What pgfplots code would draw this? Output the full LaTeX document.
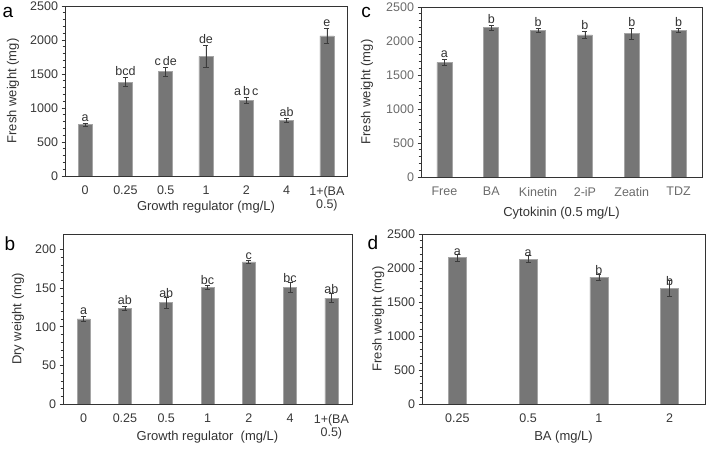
\documentclass[border=0pt]{standalone}
\usepackage{fontspec}
\setmainfont{Liberation Sans}
\usepackage{pgfplots}
\pgfplotsset{compat=1.18}

\definecolor{barGray}{RGB}{118,118,118}
\definecolor{barEdge}{RGB}{165,165,165}
\definecolor{errGray}{RGB}{60,60,60}

\pgfplotsset{
  panel/.style={
    scale only axis, anchor=south west, ymin=0, enlargelimits=false,
    axis line style={black!80, line width=0.7pt},
    tick align=outside, ytick pos=left, xtick pos=bottom,
    major x tick style={draw=none},
    minor y tick num=4,
    major tick length=3.5pt, minor tick length=2.5pt,
    every tick/.append style={black!80, line width=0.6pt},
    tick label style={font=\fontsize{12.5}{13.5}\selectfont, text=black!78},
    /pgf/number format/assume math mode=true,
    /pgf/number format/1000 sep={},
    xticklabel style={align=center, yshift=-3pt},
    label style={font=\fontsize{13}{15}\selectfont, text=black!80},
  },
  bars/.style={ybar, bar shift=0pt, fill=barGray, draw=barEdge, line width=0.6pt,
    error bars/y dir=both, error bars/y explicit,
    error bars/error bar style={errGray, line width=0.6pt},
    error bars/error mark options={errGray, rotate=90, mark size=2.5pt, line width=0.6pt}},
  letters/.style={draw=none, mark=none, nodes near coords, point meta=explicit symbolic,
    nodes near coords style={font=\fontsize{12.5}{13}\selectfont, text=black!80, anchor=south, inner sep=1.5pt}},
}

\begin{document}
\begin{tikzpicture}[x=1pt,y=1pt]
\useasboundingbox (0,0) rectangle (708,449);

% a: fresh weight vs growth regulator
\begin{axis}[panel, at={(65pt,273pt)}, width=282pt, height=170pt,
  xmin=-0.5, xmax=6.5, ymax=2500, ytick={0,500,...,2500},
  xtick={0,...,6}, xticklabels={0,0.25,0.5,1,2,4,{1+(BA\\0.5)}},
  ylabel={Fresh weight (mg)}, xlabel={Growth regulator (mg/L)},
  ylabel style={at={(axis description cs:-0.184,0.5)}, anchor=center},
  xlabel style={at={(axis description cs:0.5,-0.185)}, anchor=center}]
\addplot[bars, bar width=14pt] coordinates {
  (0,755) +- (0,25)
  (1,1380) +- (0,65)
  (2,1535) +- (0,70)
  (3,1760) +- (0,165)
  (4,1110) +- (0,45)
  (5,820) +- (0,25)
  (6,2060) +- (0,105)
};
\addplot[letters] coordinates {
  (0,780)[a] (1,1445)[bcd] (2,1605)[c\,de] (3,1925)[de]
  (4,1155)[a\,b\,c] (5,845)[ab] (6,2165)[e]
};
\end{axis}

% c: fresh weight vs cytokinin
\begin{axis}[panel, at={(421pt,272pt)}, width=281pt, height=170pt,
  xmin=-0.5, xmax=5.5, ymax=2500, ytick={0,500,...,2500},
  xtick={0,...,5}, xticklabels={Free,BA,Kinetin,2-iP,Zeatin,TDZ},
  tick label style={text=black!58},
  ylabel={Fresh weight (mg)}, xlabel={Cytokinin (0.5 mg/L)},
  ylabel style={at={(axis description cs:-0.192,0.5)}, anchor=center},
  xlabel style={at={(axis description cs:0.5,-0.212)}, anchor=center}]
\addplot[bars, bar width=15pt] coordinates {
  (0,1685) +- (0,45)
  (1,2195) +- (0,40)
  (2,2160) +- (0,25)
  (3,2090) +- (0,55)
  (4,2110) +- (0,80)
  (5,2160) +- (0,25)
};
\addplot[letters] coordinates {
  (0,1730)[a] (1,2235)[b] (2,2185)[b] (3,2145)[b] (4,2190)[b] (5,2185)[b]
};
\end{axis}

% b: dry weight vs growth regulator
\begin{axis}[panel, at={(63pt,45pt)}, width=289pt, height=170pt,
  xmin=-0.5, xmax=6.5, ymax=220, ytick={0,50,...,200},
  xtick={0,...,6}, xticklabels={0,0.25,0.5,1,2,4,{1+(BA\\0.5)}},
  ylabel={Dry weight (mg)}, xlabel={Growth regulator\ \ (mg/L)},
  ylabel style={at={(axis description cs:-0.156,0.5)}, anchor=center},
  xlabel style={at={(axis description cs:0.5,-0.194)}, anchor=center}]
\addplot[bars, bar width=13pt] coordinates {
  (0,110) +- (0,3)
  (1,124) +- (0,3)
  (2,131) +- (0,7)
  (3,151) +- (0,2)
  (4,184) +- (0,2)
  (5,151) +- (0,6)
  (6,137) +- (0,6)
};
\addplot[letters] coordinates {
  (0,113)[a] (1,126)[ab] (2,136)[ab] (3,152)[bc] (4,185)[c] (5,155)[bc] (6,141)[ab]
};
\end{axis}

% d: fresh weight vs BA
\begin{axis}[panel, at={(422pt,45pt)}, width=283pt, height=170pt,
  xmin=-0.5, xmax=3.5, ymax=2500, ytick={0,500,...,2500},
  xtick={0,...,3}, xticklabels={0.25,0.5,1,2},
  ylabel={Fresh weight (mg)}, xlabel={BA (mg/L)},
  ylabel style={at={(axis description cs:-0.155,0.5)}, anchor=center},
  xlabel style={at={(axis description cs:0.5,-0.194)}, anchor=center}]
\addplot[bars, bar width=18pt] coordinates {
  (0,2150) +- (0,55)
  (1,2130) +- (0,50)
  (2,1865) +- (0,45)
  (3,1705) +- (0,115)
};
\addplot[letters] coordinates {
  (0,2160)[a] (1,2140)[a] (2,1875)[b] (3,1720)[b]
};
\end{axis}

% panel letters
\node[font=\fontsize{19}{20}\selectfont] at (8,437) {a};
\node[font=\fontsize{19}{20}\selectfont] at (366,437) {c};
\node[font=\fontsize{19}{20}\selectfont] at (10,205) {b};
\node[font=\fontsize{19}{20}\selectfont] at (373,206) {d};
\end{tikzpicture}
\end{document}
